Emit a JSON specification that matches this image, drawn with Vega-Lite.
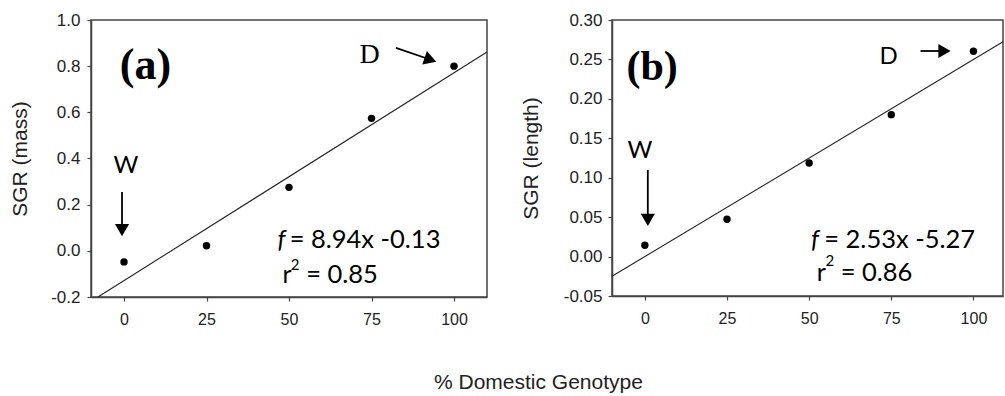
{
  "$schema": "https://vega.github.io/schema/vega-lite/v6.json",
  "background": "white",
  "padding": {"left": 8, "top": 10, "right": 0, "bottom": 0},
  "datasets": {
    "mass": [
      {"genotype": 0, "sgr": -0.048},
      {"genotype": 25, "sgr": 0.022},
      {"genotype": 50, "sgr": 0.275},
      {"genotype": 75, "sgr": 0.574},
      {"genotype": 100, "sgr": 0.80}
    ],
    "massFit": [
      {"genotype": -7.9, "sgr": -0.2},
      {"genotype": 110, "sgr": 0.861}
    ],
    "length": [
      {"genotype": 0, "sgr": 0.0143},
      {"genotype": 25, "sgr": 0.0473},
      {"genotype": 50, "sgr": 0.1187},
      {"genotype": 75, "sgr": 0.18},
      {"genotype": 100, "sgr": 0.2603}
    ],
    "lengthFit": [
      {"genotype": -10, "sgr": -0.025},
      {"genotype": 109, "sgr": 0.2725}
    ],
    "one": [{}]
  },
  "title": {
    "text": "% Domestic Genotype",
    "orient": "bottom",
    "anchor": "middle",
    "offset": 44,
    "dx": 31,
    "font": "Liberation Sans",
    "fontSize": 21,
    "fontWeight": "normal",
    "color": "#222"
  },
  "config": {
    "view": {"stroke": "#444", "strokeWidth": 1.5},
    "axis": {
      "grid": false,
      "domainColor": "#444",
      "domainWidth": 1.5,
      "tickColor": "#444",
      "tickWidth": 1.2,
      "tickSize": 4,
      "labelFont": "Liberation Sans",
      "labelColor": "#222",
      "labelExpr": "replace(datum.label, '\u2212', '-')",
      "titleFont": "Liberation Sans",
      "titleFontSize": 21,
      "titleFontWeight": "normal",
      "titleColor": "#222"
    },
    "axisX": {"labelFontSize": 16},
    "axisY": {"labelFontSize": 17}
  },
  "spacing": 29,
  "hconcat": [
    {
      "width": 396,
      "height": 277,
      "layer": [
        {
          "data": {"name": "massFit"},
          "mark": {"type": "line", "color": "#222", "strokeWidth": 1.1},
          "encoding": {
            "x": {"field": "genotype", "type": "quantitative", "scale": {"domain": [-10, 110], "nice": false, "zero": false}, "axis": {"values": [0, 25, 50, 75, 100], "tickCount": 12, "title": null, "labelPadding": 10, "labelOverlap": false}},
            "y": {"field": "sgr", "type": "quantitative", "scale": {"domain": [-0.2, 1.0], "nice": false, "zero": false}, "axis": {"values": [-0.2, 0, 0.2, 0.4, 0.6, 0.8, 1.0], "tickCount": 12, "format": ".1f", "title": "SGR (mass)", "labelPadding": 7, "titlePadding": 20, "labelOverlap": false}}
          }
        },
        {
          "data": {"name": "mass"},
          "mark": {"type": "point", "shape": "circle", "filled": true, "color": "black", "size": 55, "opacity": 1},
          "encoding": {
            "x": {"field": "genotype", "type": "quantitative"},
            "y": {"field": "sgr", "type": "quantitative"}
          }
        },
        {
          "data": {"name": "one"},
          "mark": {"type": "text", "text": "(a)", "font": "Liberation Serif", "fontSize": 44, "fontWeight": "bold", "align": "center", "baseline": "middle", "color": "black"},
          "encoding": {"x": {"datum": 6.5}, "y": {"datum": 0.80}}
        },
        {
          "data": {"name": "one"},
          "mark": {"type": "text", "text": "D", "font": "Liberation Serif", "fontSize": 28, "align": "center", "baseline": "alphabetic", "color": "black"},
          "encoding": {"x": {"datum": 74.4}, "y": {"datum": 0.815}}
        },
        {
          "data": {"name": "one"},
          "mark": {"type": "rule", "color": "black", "strokeWidth": 1.8},
          "encoding": {"x": {"datum": 82.4}, "y": {"datum": 0.879}, "x2": {"datum": 92.5}, "y2": {"datum": 0.830}}
        },
        {
          "data": {"name": "one"},
          "mark": {"type": "point", "shape": "triangle-right", "filled": true, "color": "black", "size": 200, "angle": 19, "opacity": 1},
          "encoding": {"x": {"datum": 92.85}, "y": {"datum": 0.828}}
        },
        {
          "data": {"name": "one"},
          "mark": {"type": "text", "text": "W", "font": "Lato", "fontSize": 24, "align": "center", "baseline": "alphabetic", "color": "black"},
          "encoding": {"x": {"datum": 0.6}, "y": {"datum": 0.337}}
        },
        {
          "data": {"name": "one"},
          "mark": {"type": "rule", "color": "black", "strokeWidth": 1.8},
          "encoding": {"x": {"datum": -0.6}, "y": {"datum": 0.255}, "x2": {"datum": -0.6}, "y2": {"datum": 0.095}}
        },
        {
          "data": {"name": "one"},
          "mark": {"type": "point", "shape": "triangle-down", "filled": true, "color": "black", "size": 200, "opacity": 1},
          "encoding": {"x": {"datum": -0.6}, "y": {"datum": 0.090}}
        },
        {
          "data": {"name": "one"},
          "mark": {"type": "text", "text": "f", "font": "Lato", "fontStyle": "italic", "fontSize": 25, "align": "left", "baseline": "alphabetic", "color": "black"},
          "encoding": {"x": {"datum": 46.5}, "y": {"datum": 0.0123}}
        },
        {
          "data": {"name": "one"},
          "mark": {"type": "text", "text": "= 8.94x -0.13", "font": "Lato", "fontSize": 25.5, "align": "left", "baseline": "alphabetic", "color": "black"},
          "encoding": {"x": {"datum": 50.2}, "y": {"datum": 0.0123}}
        },
        {
          "data": {"name": "one"},
          "mark": {"type": "text", "text": "r", "font": "Lato", "fontSize": 25, "align": "left", "baseline": "alphabetic", "color": "black"},
          "encoding": {"x": {"datum": 48.0}, "y": {"datum": -0.139}}
        },
        {
          "data": {"name": "one"},
          "mark": {"type": "text", "text": "2", "font": "Lato", "fontSize": 15, "align": "left", "baseline": "alphabetic", "color": "black"},
          "encoding": {"x": {"datum": 50.5}, "y": {"datum": -0.083}}
        },
        {
          "data": {"name": "one"},
          "mark": {"type": "text", "text": "= 0.85", "font": "Lato", "fontSize": 25.5, "align": "left", "baseline": "alphabetic", "color": "black"},
          "encoding": {"x": {"datum": 55.2}, "y": {"datum": -0.139}}
        }
      ]
    },
    {
      "width": 391,
      "height": 276,
      "layer": [
        {
          "data": {"name": "lengthFit"},
          "mark": {"type": "line", "color": "#222", "strokeWidth": 1.1},
          "encoding": {
            "x": {"field": "genotype", "type": "quantitative", "scale": {"domain": [-10, 109], "nice": false, "zero": false}, "axis": {"values": [0, 25, 50, 75, 100], "tickCount": 12, "title": null, "labelPadding": 10, "labelOverlap": false}},
            "y": {"field": "sgr", "type": "quantitative", "scale": {"domain": [-0.05, 0.30], "nice": false, "zero": false}, "axis": {"values": [-0.05, 0, 0.05, 0.10, 0.15, 0.20, 0.25, 0.30], "tickCount": 12, "format": ".2f", "title": "SGR (length)", "labelPadding": 6, "titlePadding": 22, "labelOverlap": false}}
          }
        },
        {
          "data": {"name": "length"},
          "mark": {"type": "point", "shape": "circle", "filled": true, "color": "black", "size": 55, "opacity": 1},
          "encoding": {
            "x": {"field": "genotype", "type": "quantitative"},
            "y": {"field": "sgr", "type": "quantitative"}
          }
        },
        {
          "data": {"name": "one"},
          "mark": {"type": "text", "text": "(b)", "font": "Liberation Serif", "fontSize": 42, "fontWeight": "bold", "align": "center", "baseline": "middle", "color": "black"},
          "encoding": {"x": {"datum": 2.2}, "y": {"datum": 0.240}}
        },
        {
          "data": {"name": "one"},
          "mark": {"type": "text", "text": "D", "font": "Lato", "fontSize": 24, "align": "center", "baseline": "alphabetic", "color": "black"},
          "encoding": {"x": {"datum": 74.2}, "y": {"datum": 0.244}}
        },
        {
          "data": {"name": "one"},
          "mark": {"type": "rule", "color": "black", "strokeWidth": 1.8},
          "encoding": {"x": {"datum": 83.9}, "y": {"datum": 0.2607}, "x2": {"datum": 90.5}, "y2": {"datum": 0.2607}}
        },
        {
          "data": {"name": "one"},
          "mark": {"type": "point", "shape": "triangle-right", "filled": true, "color": "black", "size": 200, "opacity": 1},
          "encoding": {"x": {"datum": 91.2}, "y": {"datum": 0.2607}}
        },
        {
          "data": {"name": "one"},
          "mark": {"type": "text", "text": "W", "font": "Lato", "fontSize": 24, "align": "center", "baseline": "alphabetic", "color": "black"},
          "encoding": {"x": {"datum": -1.5}, "y": {"datum": 0.125}}
        },
        {
          "data": {"name": "one"},
          "mark": {"type": "rule", "color": "black", "strokeWidth": 1.8},
          "encoding": {"x": {"datum": 0.9}, "y": {"datum": 0.1098}, "x2": {"datum": 0.9}, "y2": {"datum": 0.048}}
        },
        {
          "data": {"name": "one"},
          "mark": {"type": "point", "shape": "triangle-down", "filled": true, "color": "black", "size": 200, "opacity": 1},
          "encoding": {"x": {"datum": 0.9}, "y": {"datum": 0.0464}}
        },
        {
          "data": {"name": "one"},
          "mark": {"type": "text", "text": "f", "font": "Lato", "fontStyle": "italic", "fontSize": 25, "align": "left", "baseline": "alphabetic", "color": "black"},
          "encoding": {"x": {"datum": 50.6}, "y": {"datum": 0.0109}}
        },
        {
          "data": {"name": "one"},
          "mark": {"type": "text", "text": "= 2.53x -5.27", "font": "Lato", "fontSize": 25.5, "align": "left", "baseline": "alphabetic", "color": "black"},
          "encoding": {"x": {"datum": 54.6}, "y": {"datum": 0.0109}}
        },
        {
          "data": {"name": "one"},
          "mark": {"type": "text", "text": "r", "font": "Lato", "fontSize": 25, "align": "left", "baseline": "alphabetic", "color": "black"},
          "encoding": {"x": {"datum": 52.3}, "y": {"datum": -0.031}}
        },
        {
          "data": {"name": "one"},
          "mark": {"type": "text", "text": "2", "font": "Lato", "fontSize": 15, "align": "left", "baseline": "alphabetic", "color": "black"},
          "encoding": {"x": {"datum": 55.0}, "y": {"datum": -0.012}}
        },
        {
          "data": {"name": "one"},
          "mark": {"type": "text", "text": "= 0.86", "font": "Lato", "fontSize": 25.5, "align": "left", "baseline": "alphabetic", "color": "black"},
          "encoding": {"x": {"datum": 59.6}, "y": {"datum": -0.031}}
        }
      ]
    }
  ]
}
